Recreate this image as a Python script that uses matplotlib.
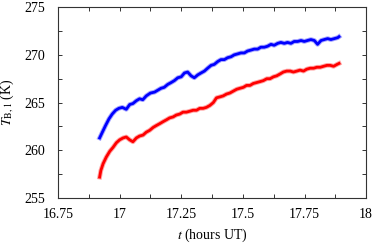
import numpy as np
import matplotlib
matplotlib.use("Agg")
import matplotlib.pyplot as plt
from matplotlib.ticker import MultipleLocator

# values (time in hours UT, brightness temperature in K)
t_blue = [16.919, 16.930, 16.943, 16.957, 16.970, 16.984, 16.997, 17.011, 17.027,
          17.041, 17.054, 17.068, 17.081, 17.094, 17.108, 17.125, 17.142, 17.155,
          17.168, 17.181, 17.195, 17.209, 17.222, 17.236, 17.250, 17.263, 17.276,
          17.290, 17.303, 17.317, 17.330, 17.344, 17.357, 17.371, 17.384, 17.398,
          17.411, 17.425, 17.438, 17.452, 17.465, 17.479, 17.492, 17.506, 17.519,
          17.533, 17.546, 17.560, 17.573, 17.587, 17.600, 17.614, 17.627, 17.641,
          17.654, 17.668, 17.681, 17.695, 17.708, 17.722, 17.736, 17.749, 17.762,
          17.776, 17.790, 17.803, 17.817, 17.830, 17.844, 17.857, 17.871, 17.885,
          17.890]
T_blue = [261.3, 261.9, 262.6, 263.3, 263.8, 264.2, 264.4, 264.5, 264.3, 264.8,
          264.9, 265.2, 265.4, 265.3, 265.7, 266.0, 266.1, 266.3, 266.5, 266.6,
          266.9, 267.1, 267.3, 267.6, 267.7, 268.1, 268.2, 267.8, 267.6, 267.9,
          268.1, 268.3, 268.6, 268.9, 269.0, 269.3, 269.5, 269.5, 269.7, 269.8,
          270.0, 270.1, 270.2, 270.2, 270.4, 270.5, 270.6, 270.6, 270.8, 270.8,
          270.9, 271.1, 271.0, 271.2, 271.3, 271.2, 271.3, 271.2, 271.4, 271.4,
          271.5, 271.4, 271.5, 271.6, 271.5, 271.1, 271.5, 271.6, 271.7, 271.6,
          271.7, 271.8, 271.9]

t_red = [16.919, 16.924, 16.933, 16.946, 16.960, 16.973, 16.987, 17.000, 17.014,
         17.027, 17.041, 17.054, 17.068, 17.081, 17.095, 17.108, 17.122, 17.136,
         17.149, 17.163, 17.176, 17.190, 17.203, 17.217, 17.230, 17.244, 17.257,
         17.271, 17.285, 17.298, 17.312, 17.325, 17.339, 17.352, 17.366, 17.380,
         17.393, 17.407, 17.420, 17.434, 17.447, 17.461, 17.475, 17.488, 17.502,
         17.515, 17.529, 17.542, 17.556, 17.570, 17.583, 17.597, 17.610, 17.624,
         17.637, 17.651, 17.664, 17.678, 17.692, 17.705, 17.719, 17.732, 17.746,
         17.759, 17.773, 17.787, 17.800, 17.814, 17.827, 17.841, 17.854, 17.868,
         17.882, 17.890]
T_red = [257.2, 257.9, 258.6, 259.3, 259.9, 260.3, 260.8, 261.1, 261.3, 261.4,
         261.1, 260.9, 261.3, 261.5, 261.6, 261.9, 262.1, 262.4, 262.6, 262.8,
         263.0, 263.2, 263.4, 263.5, 263.7, 263.8, 264.0, 264.0, 264.1, 264.2,
         264.2, 264.4, 264.4, 264.5, 264.7, 265.0, 265.5, 265.6, 265.7, 265.9,
         266.0, 266.2, 266.4, 266.5, 266.6, 266.8, 266.8, 267.0, 267.1, 267.2,
         267.3, 267.5, 267.5, 267.7, 267.8, 268.0, 268.2, 268.3, 268.3, 268.2,
         268.3, 268.4, 268.3, 268.5, 268.6, 268.6, 268.7, 268.7, 268.8, 268.9,
         268.9, 268.8, 269.0, 269.1]

plt.rcParams['font.family'] = ['Liberation Serif', 'DejaVu Serif']
plt.rcParams['mathtext.fontset'] = 'stix'

fig = plt.figure(figsize=(3.74, 2.44), dpi=100)
ax = fig.add_axes([0.155, 0.188, 0.824, 0.783])

# faint halo under each trace to mimic the noisy band
for t, T, c in [(t_blue, T_blue, '#0000ff'), (t_red, T_red, '#ff0000')]:
    ax.plot(t, T, color=c, lw=3.4, alpha=0.35)
    ax.plot(t, T, color=c, lw=2.0)

ax.set_xlim(16.75, 18)
ax.set_ylim(255, 275)
ax.xaxis.set_minor_locator(MultipleLocator(0.125))
ax.yaxis.set_major_locator(MultipleLocator(5))
ax.yaxis.set_minor_locator(MultipleLocator(2.5))
ax.set_xticks([16.75, 17, 17.25, 17.5, 17.75, 18])
ax.set_xticklabels(['16.75', '17', '17.25', '17.5', '17.75', '18'])

ax.tick_params(which='both', direction='in', top=True, right=True,
               length=3, width=0.7, labelsize=10, color='#333333')
ax.tick_params(axis='y', pad=9)
ax.tick_params(axis='x', pad=7)
for s in ax.spines.values():
    s.set_linewidth(0.8)
    s.set_color('#333333')

ax.set_xlabel('$t$ (hours UT)', fontsize=10, labelpad=4)
ax.set_ylabel(r'$T_{\rm B,1}$ (K)', fontsize=10, labelpad=6)

fig.savefig('out.png', dpi=100)
